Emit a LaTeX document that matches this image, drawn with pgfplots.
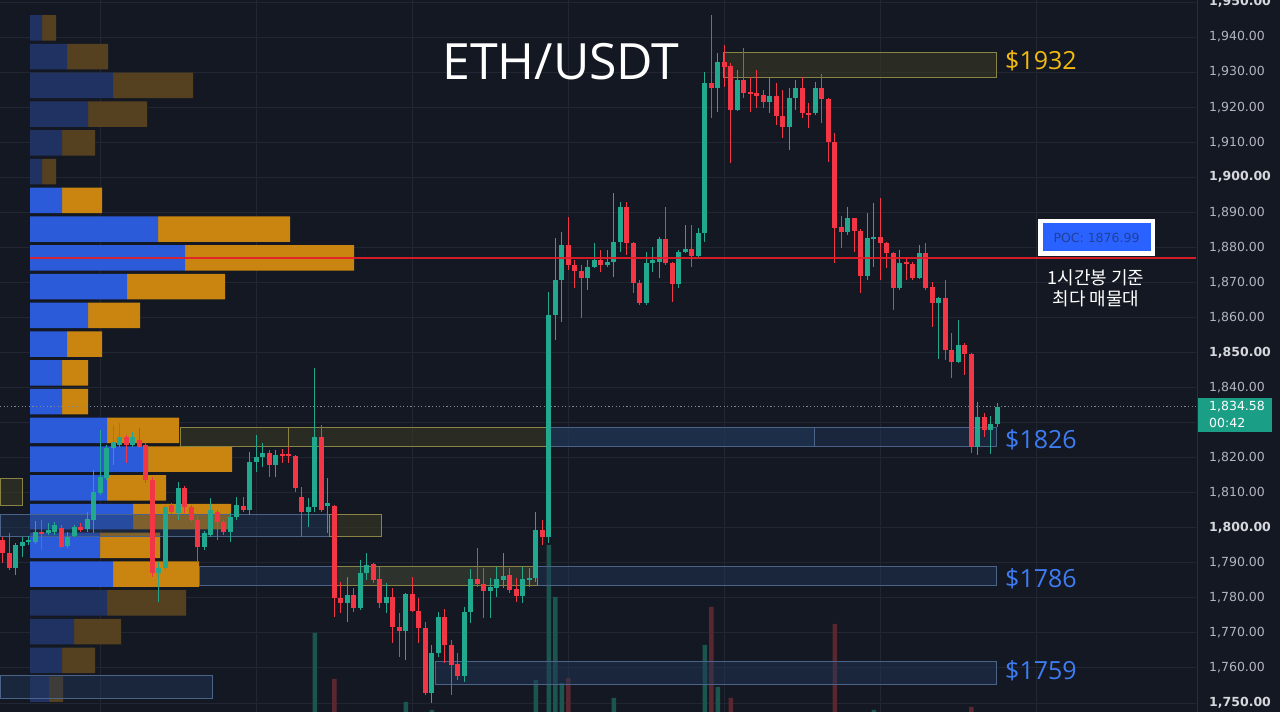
\documentclass[border=0pt]{standalone}
\usepackage{pgfplots}
\usepackage{pgfplotstable}
\pgfplotsset{compat=1.18}
\usepackage{fontspec}
\setmainfont{DejaVu Sans}
\newfontfamily\tickfont{DejaVu Sans}
\newfontfamily\titlefont{Open Sans}
\newfontfamily\krfont{Noto Sans CJK KR}
\definecolor{bgc}{HTML}{141822}
\definecolor{gridc}{HTML}{222632}
\definecolor{tickc}{HTML}{B2B5BE}
\definecolor{tickb}{HTML}{D6D8DE}
\definecolor{upc}{HTML}{22A88E}
\definecolor{dnc}{HTML}{F23645}
\definecolor{volup}{HTML}{1B5550}
\definecolor{voldn}{HTML}{5A2630}
\definecolor{pbl}{HTML}{2B5BD8}
\definecolor{por}{HTML}{C9850F}
\definecolor{pbld}{HTML}{1F3262}
\definecolor{pord}{HTML}{55401F}
\definecolor{boxyl}{HTML}{8A8444}
\definecolor{boxyf}{HTML}{3A3A25}
\definecolor{boxbl}{HTML}{4C6389}
\definecolor{boxbf}{HTML}{22385A}
\definecolor{pocred}{HTML}{E31E2A}
\definecolor{goldc}{HTML}{F2BA12}
\definecolor{bluec}{HTML}{3D7CF2}
\definecolor{pocblue}{HTML}{2962FF}
\definecolor{poctext}{HTML}{21409A}
\definecolor{pricebox}{HTML}{1A9E86}
\definecolor{borderc}{HTML}{2A2E39}

\pgfplotstableread{
n o h l c
2 1788.5 1795.6 1786.5 1795.1
3 1794.8 1797.3 1791.6 1795.9
4 1795.9 1797.6 1795.1 1796.5
5 1795.9 1801.9 1795.4 1798.8
7 1798.5 1801.3 1797.9 1799.4
8 1798.8 1801.6 1797.9 1800.8
10 1794.8 1798.8 1794.2 1797.4
11 1797.6 1800.8 1797.4 1800.2
13 1799.6 1804.5 1798.8 1802.5
14 1802.2 1816.5 1798.5 1810.2
15 1809.9 1827.9 1809.3 1814.5
16 1814.2 1823.6 1813.6 1822.7
17 1822.7 1829.3 1817.9 1824.5
18 1823.6 1829.9 1823.0 1825.9
20 1823.6 1827.3 1823.0 1825.9
24 1787.1 1790.2 1778.8 1788.5
25 1788.5 1806.5 1787.9 1805.9
27 1804.2 1813.0 1802.2 1811.3
31 1794.5 1799.1 1793.6 1798.5
32 1797.9 1808.5 1797.4 1805.1
35 1798.8 1804.2 1795.9 1803.1
36 1803.1 1808.8 1802.2 1806.5
38 1805.1 1821.6 1803.6 1818.8
39 1818.8 1826.5 1815.9 1820.2
40 1820.2 1824.2 1817.3 1821.3
42 1817.9 1822.2 1814.5 1820.7
47 1804.5 1808.5 1800.2 1805.9
48 1805.9 1845.6 1804.5 1825.9
50 1806.2 1814.2 1798.5 1807.1
53 1778.5 1785.9 1773.1 1780.8
55 1777.1 1790.8 1776.5 1787.1
56 1787.1 1792.8 1785.1 1789.4
59 1778.5 1784.2 1775.7 1780.2
62 1770.5 1781.4 1762.3 1781.1
66 1752.8 1766.5 1750.0 1764.3
67 1764.3 1775.9 1763.1 1774.5
71 1757.7 1777.4 1756.0 1776.0
72 1776.0 1788.2 1772.8 1785.4
75 1781.9 1785.7 1774.2 1783.1
76 1782.8 1788.8 1780.2 1785.4
77 1785.1 1792.8 1782.8 1786.2
80 1780.5 1788.8 1778.5 1785.4
81 1785.1 1788.5 1783.1 1785.7
82 1785.7 1804.5 1784.5 1799.4
84 1797.4 1867.3 1795.6 1860.7
85 1860.7 1882.7 1853.6 1870.7
86 1870.7 1884.4 1858.7 1880.7
90 1871.2 1876.4 1867.8 1874.4
91 1874.4 1881.2 1874.1 1876.4
93 1875.0 1879.2 1874.4 1875.8
94 1875.8 1895.5 1871.5 1881.5
95 1881.5 1892.9 1878.7 1891.5
99 1864.1 1878.7 1863.5 1875.5
100 1875.5 1880.1 1873.0 1876.4
101 1875.8 1882.9 1871.2 1882.4
104 1869.5 1879.2 1868.4 1878.7
105 1878.7 1886.4 1878.4 1879.5
107 1877.5 1885.5 1877.2 1884.1
108 1884.1 1930.0 1881.5 1926.9
110 1925.5 1935.4 1918.6 1932.9
113 1919.2 1930.6 1918.9 1927.7
118 1921.5 1928.3 1918.3 1923.2
121 1914.3 1925.5 1907.8 1922.6
122 1922.6 1927.7 1919.2 1925.5
125 1918.3 1927.2 1917.8 1925.5
130 1884.4 1891.5 1883.5 1888.4
133 1871.8 1889.8 1870.7 1882.7
134 1882.4 1892.6 1874.4 1882.9
138 1868.4 1879.2 1867.8 1875.5
141 1871.2 1880.7 1870.9 1878.4
144 1864.1 1865.8 1848.1 1865.5
147 1847.3 1859.3 1847.0 1852.1
150 1823.0 1835.9 1820.7 1831.6
152 1827.9 1831.9 1821.0 1829.6
153 1829.6 1835.6 1828.7 1834.58
}\upT

\pgfplotstableread{
n o h l c
0 1796.5 1797.3 1789.9 1792.8
1 1792.8 1798.5 1787.9 1788.5
6 1798.8 1802.2 1793.6 1798.2
9 1799.9 1800.8 1794.2 1794.5
12 1800.2 1801.3 1798.8 1799.4
19 1825.9 1826.5 1818.5 1823.6
21 1825.0 1828.4 1822.7 1823.0
22 1823.6 1824.2 1812.8 1813.6
23 1813.6 1814.5 1785.9 1787.1
26 1806.5 1807.1 1803.9 1804.5
28 1811.3 1811.9 1804.2 1805.9
29 1805.9 1806.5 1801.6 1802.2
30 1802.2 1803.6 1789.9 1794.5
33 1804.5 1805.1 1796.5 1801.6
34 1801.6 1802.2 1797.9 1798.8
37 1806.2 1808.8 1804.5 1805.1
41 1821.3 1822.2 1814.5 1817.9
43 1821.0 1822.5 1818.5 1820.5
44 1821.0 1823.0 1818.5 1820.5
45 1820.5 1820.7 1810.2 1811.3
46 1808.8 1811.6 1797.4 1804.5
49 1825.9 1829.3 1804.5 1805.1
51 1806.2 1806.5 1774.5 1779.9
52 1779.9 1784.5 1775.7 1778.5
54 1780.8 1782.8 1776.0 1777.1
57 1789.7 1789.9 1784.2 1785.1
58 1785.4 1788.8 1777.1 1778.5
60 1780.2 1782.8 1767.1 1771.7
61 1771.7 1775.7 1763.1 1770.5
63 1781.1 1785.9 1776.0 1776.2
64 1776.2 1779.9 1767.1 1771.4
65 1771.4 1773.1 1752.3 1752.8
68 1774.5 1776.8 1761.4 1766.5
69 1766.5 1768.0 1752.3 1760.8
70 1761.1 1764.3 1756.6 1757.7
73 1785.4 1794.2 1783.1 1783.9
74 1783.9 1788.5 1774.2 1781.9
78 1786.5 1788.5 1781.4 1782.2
79 1782.5 1785.7 1778.8 1780.5
83 1799.4 1802.2 1795.1 1797.4
87 1880.7 1888.7 1873.5 1875.0
88 1875.0 1876.4 1868.4 1873.2
89 1873.2 1875.0 1859.8 1871.2
92 1876.4 1879.2 1873.0 1875.0
96 1891.5 1892.9 1877.8 1881.2
97 1881.2 1881.5 1867.0 1869.8
98 1869.8 1870.7 1863.5 1864.1
102 1882.4 1891.5 1875.0 1875.5
103 1875.5 1875.8 1864.4 1869.5
106 1879.5 1886.4 1874.4 1877.5
109 1926.9 1946.3 1916.9 1925.5
111 1932.9 1937.7 1925.7 1931.4
112 1931.7 1932.6 1904.1 1919.2
114 1927.7 1936.9 1922.6 1924.0
115 1924.3 1928.6 1918.6 1923.7
116 1924.0 1930.6 1919.8 1923.2
117 1923.5 1924.9 1919.8 1921.5
119 1923.2 1926.9 1914.9 1917.5
120 1917.5 1924.9 1911.2 1914.3
123 1925.5 1928.6 1916.9 1918.3
124 1918.3 1921.2 1914.0 1918.0
126 1925.5 1929.5 1915.5 1922.3
127 1922.3 1922.6 1904.3 1910.1
128 1910.1 1912.6 1875.5 1885.5
129 1885.8 1888.9 1879.8 1884.4
131 1888.4 1888.4 1878.7 1884.7
132 1884.7 1885.2 1867.0 1871.8
135 1882.9 1894.1 1870.7 1881.2
136 1881.2 1881.5 1874.1 1878.4
137 1878.4 1878.7 1862.1 1868.4
139 1875.8 1877.2 1870.7 1875.2
140 1875.2 1875.8 1870.7 1871.2
142 1878.4 1881.2 1867.8 1868.4
143 1868.7 1870.1 1857.3 1864.1
145 1865.5 1870.7 1847.9 1850.7
146 1850.7 1855.6 1842.7 1847.3
148 1852.1 1852.7 1843.6 1849.6
149 1849.6 1849.9 1821.3 1823.0
151 1831.6 1832.7 1825.9 1827.9
}\dnT

\pgfplotsset{
  common/.style={scale only axis, width=1196bp, height=712bp, at={(0,0)}, anchor=south west},
  pricey/.style={ymin=1747.42, ymax=1950.56},
  candx/.style={xmin=-0.431, xmax=183.57},
  candle/.style 2 args={draw=none, mark=none, forget plot,
    error bars/.cd, y dir=both, y explicit, error mark=none,
    error bar style={draw=#1, line width=#2}},
}

\begin{document}
\begin{tikzpicture}
\fill[bgc] (0,0) rectangle (1280bp,712bp);

% ---- base axis: grid and price scale
\begin{axis}[common, pricey, candx,
  axis line style={draw=none}, major tick length=0pt, tick style={draw=none},
  xtick={15,39,63,87,111,135,159}, xticklabels={},
  ytick={1750,1760,...,1950},
  grid=major, grid style={draw=gridc, line width=0.9bp},
  yticklabel pos=right,
  yticklabel style={anchor=west, inner sep=0pt, xshift=13bp, text=tickc,
    font=\tickfont\fontsize{12.5bp}{14bp}\selectfont},
  yticklabels={{\bfseries\color{tickb}1,750.00},{1,760.00},{1,770.00},{1,780.00},{1,790.00},{\bfseries\color{tickb}1,800.00},{1,810.00},{1,820.00},{},{1,840.00},{\bfseries\color{tickb}1,850.00},{1,860.00},{1,870.00},{1,880.00},{1,890.00},{\bfseries\color{tickb}1,900.00},{1,910.00},{1,920.00},{1,930.00},{1,940.00},{\bfseries\color{tickb}1,950.00}},
]
\addplot[draw=none] coordinates {(0,1800)};
\end{axis}

% ---- volume bars
\begin{axis}[common, candx, ymin=0, ymax=712, hide axis, ybar, bar width=0.68, bar shift=0pt]
\addplot[fill=volup, draw=none] coordinates {(48,79) (62,10) (66,2) (82,32) (84,167) (85,115) (86,29) (94,14) (108,67) (110,25) (134,2)};
\addplot[fill=voldn, draw=none] coordinates {(51,33) (87,34) (109,105) (112,14) (128,88) (149,5)};
\end{axis}

% ---- volume profile (x in pixels from profile base)
\begin{axis}[common, pricey, xmin=-30, xmax=1166, hide axis, xbar stacked, bar width=7.25]
\addplot[fill=pbl, draw=none] coordinates {(0,1942.61) (0,1934.41) (0,1926.21) (0,1918.00) (0,1909.80) (0,1901.60) (32,1893.40) (128,1885.19) (155,1876.99) (97,1868.79) (58,1860.58) (37,1852.38) (32,1844.18) (32,1835.98) (77,1827.77) (118,1819.57) (77,1811.37) (103,1803.17) (70,1794.96) (83,1786.76) (0,1778.56) (0,1770.36) (0,1762.15) (0,1753.95)};
\addplot[fill=por, draw=none] coordinates {(0,1942.61) (0,1934.41) (0,1926.21) (0,1918.00) (0,1909.80) (0,1901.60) (40,1893.40) (132,1885.19) (169,1876.99) (98,1868.79) (52,1860.58) (35,1852.38) (26,1844.18) (26,1835.98) (72,1827.77) (84,1819.57) (59,1811.37) (98,1803.17) (60,1794.96) (86,1786.76) (0,1778.56) (0,1770.36) (0,1762.15) (0,1753.95)};
\addplot[fill=pbld, draw=none] coordinates {(12,1942.61) (37,1934.41) (83,1926.21) (58,1918.00) (32,1909.80) (12,1901.60) (0,1893.40) (0,1885.19) (0,1876.99) (0,1868.79) (0,1860.58) (0,1852.38) (0,1844.18) (0,1835.98) (0,1827.77) (0,1819.57) (0,1811.37) (0,1803.17) (0,1794.96) (0,1786.76) (77,1778.56) (44,1770.36) (32,1762.15) (19,1753.95)};
\addplot[fill=pord, draw=none] coordinates {(14,1942.61) (41,1934.41) (80,1926.21) (59,1918.00) (33,1909.80) (14,1901.60) (0,1893.40) (0,1885.19) (0,1876.99) (0,1868.79) (0,1860.58) (0,1852.38) (0,1844.18) (0,1835.98) (0,1827.77) (0,1819.57) (0,1811.37) (0,1803.17) (0,1794.96) (0,1786.76) (79,1778.56) (47,1770.36) (33,1762.15) (14,1753.95)};
\end{axis}

% ---- main: zones, candles, lines
\begin{axis}[common, pricey, candx, hide axis]
\tikzset{ybox/.style={draw=boxyl, fill=boxyf, fill opacity=0.6, line width=1bp},
         bbox/.style={draw=boxbl, fill=boxbf, fill opacity=0.45, line width=1bp}}
\path[ybox] (axis cs:110.95,1928.31) rectangle (axis cs:152.95,1935.72);
\path[ybox] (axis cs:27.3,1823.03) rectangle (axis cs:83.7,1828.45);
\draw[boxyl, line width=1bp] (axis cs:44.0,1823.03) -- (axis cs:44.0,1828.45);
\path[bbox] (axis cs:83.7,1823.03) rectangle (axis cs:152.95,1828.45);
\path[bbox] (axis cs:83.7,1823.03) rectangle (axis cs:124.95,1828.45);
\path[ybox] (axis cs:-0.43,1806.2) rectangle (axis cs:3.1,1813.9);
\path[bbox] (axis cs:-0.43,1797.35) rectangle (axis cs:50.3,1803.63);
\path[ybox] (axis cs:50.3,1797.35) rectangle (axis cs:58.2,1803.63);
\path[bbox] (axis cs:30.2,1783.37) rectangle (axis cs:152.95,1789.07);
\path[ybox] (axis cs:51.4,1783.37) rectangle (axis cs:82.2,1789.07);
\path[bbox] (axis cs:66.5,1755.4) rectangle (axis cs:152.95,1761.69);
\path[bbox] (axis cs:-0.43,1751.13) rectangle (axis cs:32.2,1757.97);

% dotted last price line
\addplot[color=tickc!70!bgc, line width=0.8bp, dash pattern=on 1.2bp off 2.4bp] coordinates {(-0.43,1834.58) (183.57,1834.58)};

% wicks
\addplot[candle={upc}{1.1bp}]
  table[x=n, y expr={(\thisrow{h}+\thisrow{l})/2}, y error expr={(\thisrow{h}-\thisrow{l})/2}] {\upT};
\addplot[candle={dnc}{1.1bp}]
  table[x=n, y expr={(\thisrow{h}+\thisrow{l})/2}, y error expr={(\thisrow{h}-\thisrow{l})/2}] {\dnT};
% bodies
\addplot[candle={upc}{4.7bp}]
  table[x=n, y expr={(\thisrow{o}+\thisrow{c})/2}, y error expr={max(abs(\thisrow{c}-\thisrow{o})/2,0.2)}] {\upT};
\addplot[candle={dnc}{4.7bp}]
  table[x=n, y expr={(\thisrow{o}+\thisrow{c})/2}, y error expr={max(abs(\thisrow{c}-\thisrow{o})/2,0.2)}] {\dnT};

% POC line
\addplot[color=pocred, line width=2.4bp, opacity=0.92] coordinates {(4.18,1876.99) (183.57,1876.99)};
\end{axis}

% right panel border
\draw[borderc, line width=0.8bp] (1197bp,0) -- (1197bp,712bp);

% title
\node[text=white, inner sep=0pt, font=\titlefont\fontsize{50bp}{58bp}\selectfont] at (561bp,650bp) {ETH/USDT};

% level labels
\node[anchor=west, inner sep=0pt, text=goldc, font=\titlefont\fontsize{25bp}{30bp}\selectfont] at (1005bp,651bp) {\$1932};
\node[anchor=west, inner sep=0pt, text=bluec, font=\titlefont\fontsize{25bp}{30bp}\selectfont] at (1005bp,272bp) {\$1826};
\node[anchor=west, inner sep=0pt, text=bluec, font=\titlefont\fontsize{25bp}{30bp}\selectfont] at (1005bp,133bp) {\$1786};
\node[anchor=west, inner sep=0pt, text=bluec, font=\titlefont\fontsize{25bp}{30bp}\selectfont] at (1005bp,41bp) {\$1759};

% POC label
\fill[white] (1038bp,456bp) rectangle (1155bp,493bp);
\fill[pocblue] (1042.5bp,460.5bp) rectangle (1150.5bp,488.5bp);
\node[text=poctext, inner sep=0pt, font=\tickfont\fontsize{12.5bp}{14bp}\selectfont] at (1096.5bp,474.5bp) {POC: 1876.99};

% Korean note
\node[text=white, inner sep=0pt, font=\krfont\fontsize{18bp}{21bp}\selectfont] at (1096bp,434bp) {1시간봉 기준};
\node[text=white, inner sep=0pt, font=\krfont\fontsize{18bp}{21bp}\selectfont] at (1096bp,413bp) {최다 매물대};

% last price tag
\fill[pricebox] (1198bp,280bp) rectangle (1272bp,314bp);
\node[anchor=west, inner sep=0pt, text=white, font=\tickfont\fontsize{12.5bp}{14bp}\selectfont] at (1209bp,305bp) {1,834.58};
\node[anchor=west, inner sep=0pt, text=white, font=\tickfont\fontsize{12.5bp}{14bp}\selectfont] at (1209bp,289bp) {00:42};

\pgfresetboundingbox
\useasboundingbox (0,0) rectangle (1280bp,712bp);
\end{tikzpicture}
\end{document}
